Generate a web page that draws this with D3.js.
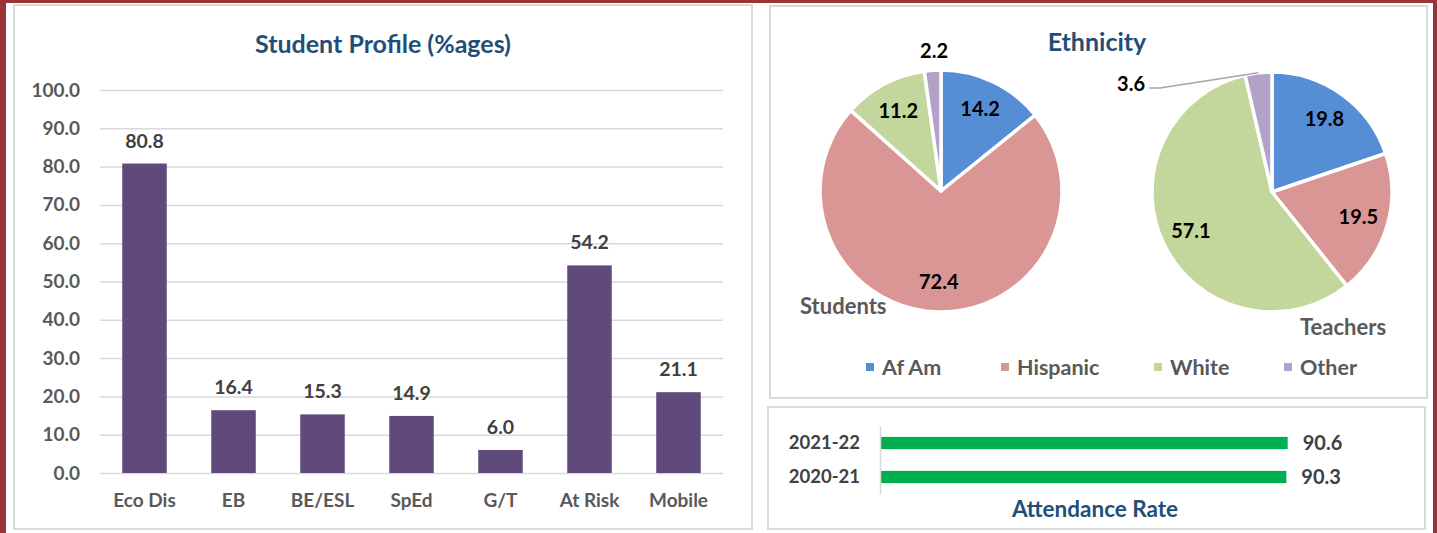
<!DOCTYPE html>
<html>
<head>
<meta charset="utf-8">
<script src="https://cdn.jsdelivr.net/npm/d3@7"></script>
<style>
  body { margin: 0; background: #fff; }
  svg { display: block; font-family: Lato, "Open Sans", sans-serif; font-weight: bold; }
</style>
</head>
<body>
<svg id="drawing_region"></svg>
<script>
// data
const profileCats = ["Eco Dis", "EB", "BE/ESL", "SpEd", "G/T", "At Risk", "Mobile"];
const profileVals = [80.8, 16.4, 15.3, 14.9, 6.0, 54.2, 21.1];
const profileTicks = [0, 10, 20, 30, 40, 50, 60, 70, 80, 90, 100];

const ethnicGroups = ["Af Am", "Hispanic", "White", "Other"];
const studentVals = [14.2, 72.4, 11.2, 2.2];
const teacherVals = [19.8, 19.5, 57.1, 3.6];

const attendYears = ["2021-22", "2020-21"];
const attendVals = [90.6, 90.3];

const ethnicColors = ["#558ED5", "#D99694", "#C3D69B", "#B3A2C7"];

const W = 1437, H = 533;
const svg = d3.select("#drawing_region").attr("width", W).attr("height", H);

// frame
svg.append("rect").attr("width", W).attr("height", H).attr("fill", "#9B3436");
svg.append("rect").attr("x", 6).attr("y", 3).attr("width", 1427).attr("height", H).attr("fill", "#fff");

function panel(x, y, w, h) {
    svg.append("rect").attr("x", x).attr("y", y).attr("width", w).attr("height", h)
        .attr("fill", "#fff").attr("stroke", "#d9d9d9").attr("stroke-width", 2);
}
panel(14, 5, 738, 524);
panel(770, 6, 657, 392);
panel(768, 407, 657, 122);

function styleText(sel, size, color) {
    sel.attr("fill", color).attr("font-size", size)
        .attr("font-family", "Lato").attr("font-weight", "bold");
}

// ---------- Student profile bar chart ----------
const x = d3.scaleBand().domain(profileCats).range([100, 723]).paddingInner(0.5).paddingOuter(0.25);
const y = d3.scaleLinear().domain([0, 100]).range([473, 90]);

const yAxis = svg.append("g").attr("transform", "translate(100,0)")
    .call(d3.axisLeft(y).tickValues(profileTicks).tickFormat(d3.format(".1f"))
        .tickSize(-623).tickPadding(20));
yAxis.select(".domain").remove();
yAxis.selectAll("line").attr("stroke", "#d9d9d9").attr("stroke-width", 1.5);
styleText(yAxis.selectAll("text"), 19, "#595959");

svg.append("g").selectAll("rect").data(profileVals).join("rect")
    .attr("x", (d, i) => x(profileCats[i]))
    .attr("width", x.bandwidth())
    .attr("y", d => y(d))
    .attr("height", d => y(0) - y(d))
    .attr("fill", "#604A7B");

svg.append("g").selectAll("text").data(profileVals).join("text")
    .attr("x", (d, i) => x(profileCats[i]) + x.bandwidth() / 2)
    .attr("y", d => y(d) - 16)
    .attr("text-anchor", "middle").attr("font-size", 19.5).attr("fill", "#404040")
    .text(d => d.toFixed(1));

const xAxis = svg.append("g").attr("transform", "translate(0,473)")
    .call(d3.axisBottom(x).tickSize(0).tickPadding(21));
xAxis.select(".domain").remove();
styleText(xAxis.selectAll("text"), 19, "#595959");

svg.append("text").attr("x", 383).attr("y", 53).attr("text-anchor", "middle")
    .attr("font-size", 25).attr("fill", "#1F4E79").text("Student Profile (%ages)");

// ---------- Ethnicity pies ----------
svg.append("text").attr("x", 1097).attr("y", 51).attr("text-anchor", "middle")
    .attr("font-size", 25).attr("fill", "#1F4E79").text("Ethnicity");

const pie = d3.pie().sort(null).value(d => d);

function drawPie(vals, cx, cy, r, name, namePos, outside) {
    const g = svg.append("g").attr("transform", `translate(${cx},${cy})`);
    const arc = d3.arc().innerRadius(0).outerRadius(r);
    const labelArc = d3.arc().innerRadius(r * 0.75).outerRadius(r * 0.75);
    const arcs = pie(vals);

    g.selectAll("path").data(arcs).join("path")
        .attr("d", arc)
        .attr("fill", (d, i) => ethnicColors[i])
        .attr("stroke", "#fff").attr("stroke-width", 3.5).attr("stroke-linejoin", "round");

    g.selectAll("text.val").data(arcs).join("text").attr("class", "val")
        .attr("text-anchor", (d, i) => i === 3 ? outside.anchor : "middle")
        .attr("dy", "0.35em")
        .attr("font-size", 20).attr("fill", "#000")
        .attr("transform", (d, i) => {
            if (i === 3) return `translate(${outside.label})`;
            return `translate(${labelArc.centroid(d)})`;
        })
        .text(d => d.data.toFixed(1));

    if (outside.leader) {
        const a = arcs[3];
        const mid = (a.startAngle + a.endAngle) / 2;
        const p0 = [Math.sin(mid) * r, -Math.cos(mid) * r];
        g.append("polyline")
            .attr("points", [p0, outside.leader, [outside.label[0] + 4, outside.leader[1]]].join(" "))
            .attr("fill", "none").attr("stroke", "#a6a6a6").attr("stroke-width", 1.5);
    }

    svg.append("text").attr("x", namePos[0]).attr("y", namePos[1])
        .attr("font-size", 22).attr("fill", "#595959").text(name);
}

drawPie(studentVals, 941, 191, 121, "Students", [800, 314],
    { label: [-7, -140], anchor: "middle", leader: null });
drawPie(teacherVals, 1272, 192, 120, "Teachers", [1300, 335],
    { label: [-127, -108], anchor: "end", leader: [-112, -104] });

// legend
const legendX = [866, 1001, 1154, 1284];
const legend = svg.append("g").selectAll("g").data(ethnicGroups).join("g")
    .attr("transform", (d, i) => `translate(${legendX[i]},367)`);
legend.append("rect").attr("x", 0).attr("y", -4).attr("width", 8).attr("height", 8)
    .attr("fill", (d, i) => ethnicColors[i]);
legend.append("text").attr("x", 16).attr("dy", "0.36em").attr("font-size", 21.5)
    .attr("fill", "#595959").text(d => d);

// ---------- Attendance ----------
const ax = d3.scaleLinear().domain([0, 100]).range([880, 1330]);
const ay = d3.scaleBand().domain(attendYears).range([426, 494]).paddingInner(0.64).paddingOuter(0.32);

svg.append("g").selectAll("rect").data(attendVals).join("rect")
    .attr("x", ax(0)).attr("y", (d, i) => ay(attendYears[i]))
    .attr("width", d => ax(d) - ax(0)).attr("height", ay.bandwidth())
    .attr("fill", "#00B050");

svg.append("g").selectAll("text").data(attendVals).join("text")
    .attr("x", d => ax(d) + 15).attr("y", (d, i) => ay(attendYears[i]) + ay.bandwidth() / 2)
    .attr("dy", "0.36em").attr("font-size", 20).attr("fill", "#404040")
    .text(d => d.toFixed(1));

const aAxis = svg.append("g").attr("transform", `translate(${ax(0)},0)`)
    .call(d3.axisLeft(ay).tickSize(0).tickPadding(20));
aAxis.select(".domain").attr("stroke", "#d9d9d9").attr("stroke-width", 1.5);
styleText(aAxis.selectAll("text"), 18.5, "#404040");

svg.append("text").attr("x", 1095).attr("y", 517).attr("text-anchor", "middle")
    .attr("font-size", 22.5).attr("fill", "#1F4E79").text("Attendance Rate");
</script>
</body>
</html>
